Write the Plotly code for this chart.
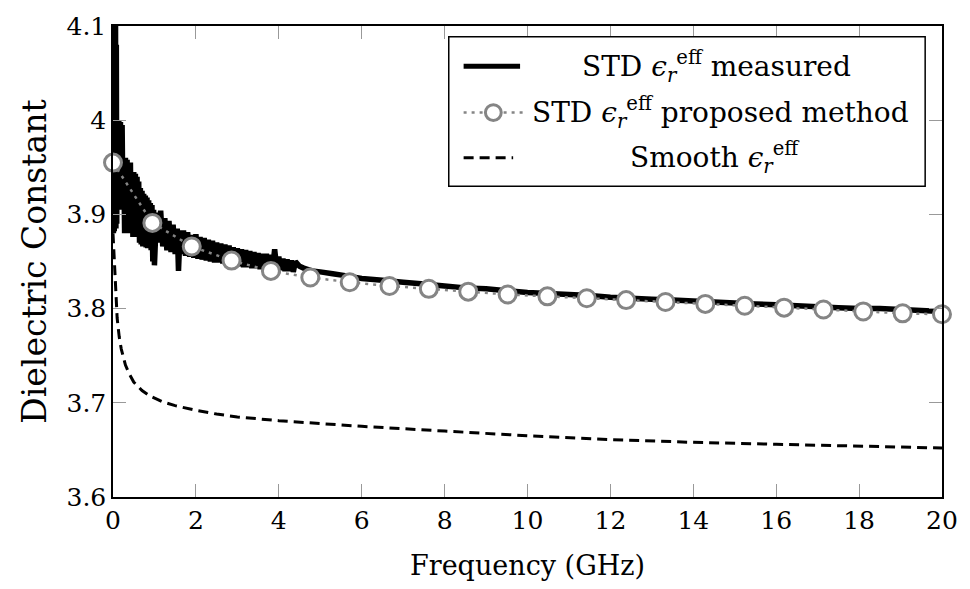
import plotly.graph_objects as go

# ---------------- data ----------------
meas_x = [0.00, 0.01, 0.02, 0.03, 0.04, 0.05, 0.06, 0.07, 0.08, 0.09, 0.10, 0.12, 0.14, 0.16,
          0.18, 0.20, 0.22, 0.24, 0.26, 0.28, 0.30, 0.32, 0.34, 0.36, 0.38, 0.40, 0.42, 0.44,
          0.46, 0.48, 0.50, 0.52, 0.54, 0.56, 0.58, 0.60, 0.62, 0.64, 0.66, 0.68, 0.70, 0.72,
          0.74, 0.76, 0.78, 0.80, 0.82, 0.84, 0.86, 0.88, 0.90, 0.92, 0.94, 0.96, 0.98,
          1.00, 1.05, 1.10, 1.15, 1.20, 1.25, 1.30, 1.35, 1.40, 1.45, 1.50, 1.55, 1.58, 1.62,
          1.65, 1.70, 1.75, 1.80, 1.85, 1.90, 1.95, 2.00, 2.05, 2.10, 2.15, 2.20, 2.25, 2.30,
          2.35, 2.40, 2.45, 2.50, 2.55, 2.60, 2.65, 2.70, 2.75, 2.80, 2.85, 2.90, 2.95, 3.00,
          3.05, 3.10, 3.15, 3.20, 3.25, 3.30, 3.35, 3.40, 3.45, 3.50, 3.55, 3.60, 3.65, 3.70,
          3.75, 3.80, 3.85, 3.90, 3.95, 4.00, 4.05, 4.10, 4.15, 4.20, 4.25, 4.30, 4.35, 4.40,
          4.50, 4.60, 4.80, 5.00, 5.30, 5.60, 6.00, 6.50, 7.00, 7.50, 8.00, 8.50, 9.00, 9.50,
          10.0, 10.5, 11.0, 11.5, 12.0, 12.5, 13.0, 13.5, 14.0, 14.5, 15.0, 15.5, 16.0, 16.5,
          17.0, 17.5, 18.0, 18.5, 19.0, 19.5, 20.0]
meas_y = [4.130, 3.880, 4.130, 3.882, 4.130, 3.885, 4.120, 3.885, 4.080, 3.890, 4.000, 3.905, 4.000, 3.905,
          3.998, 3.905, 3.995, 3.905, 3.960, 3.880, 3.960, 3.882, 3.958, 3.880, 3.955, 3.882, 3.955, 3.880,
          3.945, 3.876, 3.945, 3.876, 3.943, 3.876, 3.940, 3.877, 3.935, 3.870, 3.928, 3.868, 3.925, 3.866,
          3.922, 3.866, 3.920, 3.865, 3.918, 3.864, 3.915, 3.864, 3.912, 3.862, 3.910, 3.850, 3.905,
          3.846, 3.902, 3.870, 3.904, 3.866, 3.896, 3.862, 3.893, 3.860, 3.889, 3.858, 3.885, 3.840, 3.883,
          3.858, 3.883, 3.856, 3.881, 3.855, 3.878, 3.854, 3.879, 3.853, 3.876, 3.852, 3.875, 3.851, 3.873,
          3.850, 3.872, 3.849, 3.870, 3.849, 3.869, 3.848, 3.868, 3.847, 3.867, 3.846, 3.865, 3.846, 3.864,
          3.845, 3.863, 3.844, 3.862, 3.844, 3.861, 3.843, 3.860, 3.843, 3.859, 3.842, 3.858, 3.841, 3.858,
          3.841, 3.857, 3.842, 3.863, 3.843, 3.855, 3.841, 3.853, 3.840, 3.852, 3.840, 3.851, 3.839, 3.850,
          3.845, 3.843, 3.840, 3.839, 3.837, 3.835, 3.832, 3.830, 3.828, 3.826, 3.824, 3.822, 3.821, 3.819,
          3.817, 3.816, 3.815, 3.814, 3.812, 3.811, 3.810, 3.809, 3.808, 3.807, 3.806, 3.805, 3.804, 3.803,
          3.802, 3.801, 3.800, 3.800, 3.799, 3.798, 3.797]

prop_x = [0.00, 0.95, 1.90, 2.86, 3.81, 4.76, 5.71, 6.67, 7.62, 8.57, 9.52,
          10.48, 11.43, 12.38, 13.33, 14.29, 15.24, 16.19, 17.14, 18.10, 19.05, 20.00]
prop_y = [3.955, 3.891, 3.866, 3.851, 3.840, 3.833, 3.828, 3.824, 3.821, 3.818, 3.815,
          3.813, 3.811, 3.809, 3.807, 3.805, 3.803, 3.801, 3.799, 3.797, 3.795, 3.794]

smooth_x = [0.00, 0.02, 0.05, 0.10, 0.15, 0.20, 0.30, 0.40, 0.50, 0.70, 0.90, 1.20, 1.50,
            2.00, 2.50, 3.00, 4.00, 5.00, 6.00, 8.00, 10.0, 12.0, 14.0, 16.0, 18.0, 20.0]
smooth_y = [3.880, 3.860, 3.830, 3.790, 3.770, 3.757, 3.740, 3.730, 3.722, 3.713, 3.707, 3.701, 3.697,
            3.692, 3.688, 3.685, 3.681, 3.678, 3.675, 3.670, 3.665, 3.661, 3.658, 3.656, 3.654, 3.652]

y_ticks = [3.6, 3.7, 3.8, 3.9, 4.0, 4.1]
y_ticktext = ["3.6", "3.7", "3.8", "3.9", "4", "4.1"]
x_ticks = [0, 2, 4, 6, 8, 10, 12, 14, 16, 18, 20]

legend_labels = ["STD <i>ϵ</i><sub><i>r</i></sub><sup>eff</sup> measured",
                 "STD <i>ϵ</i><sub><i>r</i></sub><sup>eff</sup> proposed method",
                 "Smooth <i>ϵ</i><sub><i>r</i></sub><sup>eff</sup>"]

# ---------------- figure ----------------
FONT = "DejaVu Serif"
TICK_FS = 25
XT_FS = 27
YT_FS = 33
LEG_FS = 28
W, H = 970, 589
L, R, T, B = 113, 20, 18, 92
PW, PH = W - L - R, H - T - B

GREY = "#858585"

fig = go.Figure()
fig.add_trace(go.Scatter(x=meas_x, y=meas_y, mode="lines",
                         line=dict(color="black", width=5.5, simplify=False), showlegend=False))
fig.add_trace(go.Scatter(x=prop_x, y=prop_y, mode="lines+markers",
                         line=dict(color=GREY, width=2.5, dash="3px,5px"),
                         marker=dict(size=17, color="white", line=dict(color=GREY, width=3)),
                         cliponaxis=False, showlegend=False))
fig.add_trace(go.Scatter(x=smooth_x, y=smooth_y, mode="lines",
                         line=dict(color="black", width=3, dash="10px,6px"), showlegend=False))


def px(x):
    return (x - L) / PW


def py(y):
    return (H - B - y) / PH


shapes = []
annotations = []
# legend box
shapes.append(dict(type="rect", xref="paper", yref="paper",
                   x0=px(452), x1=px(933), y0=py(181), y1=py(29),
                   line=dict(color="black", width=1.5), fillcolor="white", layer="above"))
rows = [59, 106, 152]
shapes.append(dict(type="line", xref="paper", yref="paper", x0=px(467), x1=px(524),
                   y0=py(rows[0]), y1=py(rows[0]), line=dict(color="black", width=5), layer="above"))
shapes.append(dict(type="line", xref="paper", yref="paper", x0=px(467), x1=px(527),
                   y0=py(rows[1]), y1=py(rows[1]), line=dict(color=GREY, width=2.5, dash="3px,5px"),
                   layer="above"))
shapes.append(dict(type="circle", xref="paper", yref="paper", x0=px(489), x1=px(505),
                   y0=py(rows[1] + 8), y1=py(rows[1] - 8), line=dict(color=GREY, width=3),
                   fillcolor="white", layer="above"))
shapes.append(dict(type="line", xref="paper", yref="paper", x0=px(467), x1=px(517),
                   y0=py(rows[2]), y1=py(rows[2]), line=dict(color="black", width=3, dash="10px,6px"),
                   layer="above"))
centers = [722, 726, 721]
for lab, r, c in zip(legend_labels, rows, centers):
    annotations.append(dict(text=lab, xref="paper", yref="paper", x=px(c), y=py(r),
                            xanchor="center", yanchor="middle", showarrow=False,
                            font=dict(family=FONT, size=LEG_FS, color="black")))

fig.update_layout(
    width=W, height=H,
    margin=dict(l=L, r=R, t=T, b=B),
    paper_bgcolor="white", plot_bgcolor="white",
    font=dict(family=FONT, size=TICK_FS, color="black"),
    shapes=shapes, annotations=annotations,
    showlegend=False,
)
fig.update_xaxes(range=[0, 20], tickvals=x_ticks, ticks="inside", ticklen=13,
                 tickcolor="#999999", tickwidth=1, showline=True, linecolor="black",
                 linewidth=1.5, mirror="ticks", showgrid=False, zeroline=False,
                 title=dict(text="Frequency (GHz)", standoff=22, font=dict(family=FONT, size=XT_FS)),
                 tickfont=dict(family=FONT, size=TICK_FS))
fig.update_yaxes(range=[3.6, 4.1], tickvals=y_ticks, ticktext=y_ticktext, ticks="inside",
                 ticklen=13, tickcolor="#999999", tickwidth=1, showline=True,
                 linecolor="black", linewidth=1.5, mirror="ticks", showgrid=False,
                 zeroline=False,
                 title=dict(text="Dielectric Constant", standoff=10, font=dict(family=FONT, size=YT_FS)),
                 tickfont=dict(family=FONT, size=TICK_FS))

fig.write_html("out.html")
